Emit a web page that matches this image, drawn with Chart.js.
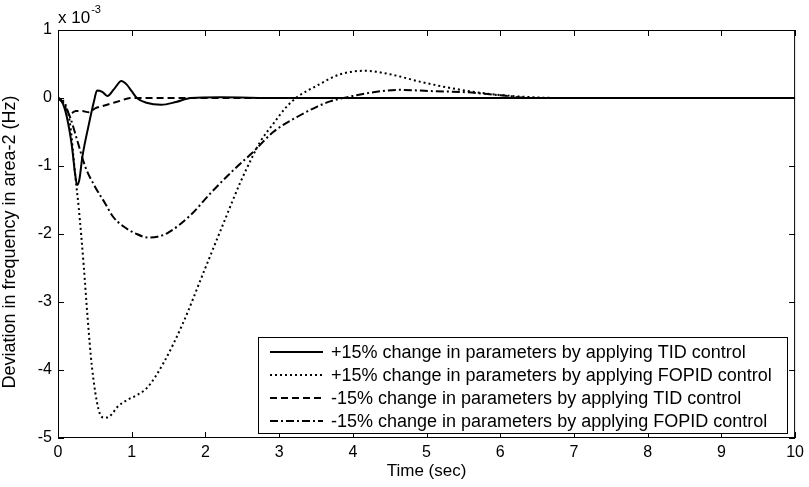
<!DOCTYPE html>
<html>
<head>
<meta charset="utf-8">
<script src="https://cdn.jsdelivr.net/npm/chart.js@4/dist/chart.umd.min.js"></script>
<style>
  html, body { margin: 0; padding: 0; background: #fff; }
  #wrap { width: 809px; height: 487px; }
</style>
</head>
<body>
<div id="wrap"><canvas id="freqChart" width="809" height="487"></canvas></div>
<script>
  // Tick values (values are in units of 1e-3 Hz)
  const xTickValues = [0, 1, 2, 3, 4, 5, 6, 7, 8, 9, 10];
  const yTickValues = [-5, -4, -3, -2, -1, 0, 1];

  const xTitle = 'Time (sec)';
  const yTitle = 'Deviation in frequency in area-2 (Hz)';

  const seriesLabels = [
    '+15% change in parameters by applying TID control',
    '+15% change in parameters by applying FOPID control',
    '-15% change in parameters by applying TID control',
    '-15% change in parameters by applying FOPID control'
  ];

  // +15% TID (solid)
  const tPlusTid = [0, 0.05, 0.12, 0.19, 0.23, 0.26, 0.29, 0.33, 0.42, 0.49, 0.53, 0.6, 0.67, 0.76, 0.86, 0.93, 1.0, 1.07, 1.2, 1.4, 1.6, 1.8, 2.2, 3, 10];
  const vPlusTid = [0, -0.04, -0.28, -0.72, -1.1, -1.28, -1.2, -0.87, -0.38, -0.04, 0.11, 0.09, 0.03, 0.13, 0.25, 0.2, 0.1, 0, -0.07, -0.1, -0.06, 0, 0.01, 0, 0];

  // +15% FOPID (dotted)
  const tPlusFopid = [0, 0.06, 0.12, 0.17, 0.21, 0.24, 0.28, 0.35, 0.4, 0.46, 0.55, 0.62, 0.67, 0.73, 0.8, 0.94, 1.05, 1.21, 1.43, 1.7, 1.98, 2.25, 2.47, 2.63, 2.74, 2.92, 3.1, 3.24, 3.51, 3.83, 4.17, 4.5, 4.95, 5.41, 5.86, 6.45, 7, 10];
  const vPlusFopid = [0, -0.03, -0.15, -0.43, -0.87, -1.2, -1.6, -2.48, -3.21, -3.95, -4.58, -4.7, -4.7, -4.65, -4.55, -4.44, -4.38, -4.26, -3.9, -3.3, -2.55, -1.83, -1.25, -0.88, -0.65, -0.38, -0.13, 0.01, 0.18, 0.35, 0.4, 0.35, 0.23, 0.13, 0.06, 0.01, 0, 0];

  // -15% TID (dashed)
  const tMinusTid = [0, 0.05, 0.1, 0.17, 0.24, 0.32, 0.42, 0.51, 0.6, 0.71, 0.85, 0.98, 1.3, 2, 10];
  const vMinusTid = [0, -0.05, -0.15, -0.23, -0.19, -0.19, -0.21, -0.15, -0.12, -0.085, -0.04, 0, 0, 0, 0];

  // -15% FOPID (dash-dot)
  const tMinusFopid = [0, 0.08, 0.17, 0.26, 0.37, 0.5, 0.64, 0.75, 0.89, 1.05, 1.21, 1.35, 1.48, 1.8, 2.07, 2.38, 2.65, 2.92, 3.24, 3.51, 3.69, 4.0, 4.28, 4.64, 5.09, 5.54, 6.0, 6.45, 7, 10];
  const vMinusFopid = [0, -0.085, -0.3, -0.62, -1.01, -1.3, -1.55, -1.75, -1.89, -1.99, -2.05, -2.04, -1.99, -1.72, -1.4, -1.06, -0.79, -0.5, -0.28, -0.13, -0.05, 0.03, 0.085, 0.12, 0.1, 0.085, 0.04, 0, 0, 0];

  const FONT = 'Arial, "Liberation Sans", Helvetica, sans-serif';

  function toPoints(ts, vs) {
    return ts.map((t, i) => ({ x: t, y: vs[i] }));
  }

  function makeDataset(label, ts, vs, dash) {
    return {
      label: label,
      data: toPoints(ts, vs),
      borderColor: '#000',
      borderWidth: 2,
      borderDash: dash,
      pointRadius: 0,
      fill: false,
      cubicInterpolationMode: 'monotone'
    };
  }

  // MATLAB style box, inward ticks, titles, exponent and legend
  const matlabFrame = {
    id: 'matlabFrame',
    afterDatasetsDraw(chart) {
      const ctx = chart.ctx;
      const area = chart.chartArea;
      const xs = chart.scales.x;
      const ys = chart.scales.y;
      const tick = 6;

      ctx.save();
      ctx.strokeStyle = '#000';
      ctx.fillStyle = '#000';
      ctx.lineWidth = 1;
      ctx.setLineDash([]);

      // box
      ctx.strokeRect(area.left + 0.5, area.top + 0.5, area.right - area.left - 1, area.bottom - area.top - 1);

      // inward ticks
      ctx.beginPath();
      xTickValues.forEach(v => {
        const px = Math.round(xs.getPixelForValue(v)) + 0.5;
        ctx.moveTo(px, area.bottom);
        ctx.lineTo(px, area.bottom - tick);
        ctx.moveTo(px, area.top);
        ctx.lineTo(px, area.top + tick);
      });
      yTickValues.forEach(v => {
        const py = Math.round(ys.getPixelForValue(v)) + 0.5;
        ctx.moveTo(area.left, py);
        ctx.lineTo(area.left + tick, py);
        ctx.moveTo(area.right, py);
        ctx.lineTo(area.right - tick, py);
      });
      ctx.stroke();

      // axis titles
      ctx.textAlign = 'center';
      ctx.textBaseline = 'middle';
      ctx.font = '17px ' + FONT;
      ctx.fillText(xTitle, (area.left + area.right) / 2, 471);
      ctx.save();
      ctx.translate(10, 242);
      ctx.rotate(-Math.PI / 2);
      ctx.font = '18px ' + FONT;
      ctx.fillText(yTitle, 0, 0);
      ctx.restore();

      // exponent label
      ctx.textBaseline = 'alphabetic';
      ctx.textAlign = 'left';
      ctx.font = '17px ' + FONT;
      ctx.fillText('x 10', area.left, 23);
      const w = ctx.measureText('x 10').width;
      ctx.font = '11px ' + FONT;
      ctx.fillText('-3', area.left + w + 1, 13);

      // legend
      const box = { left: 258, top: 337, right: 787, bottom: 433 };
      ctx.fillStyle = '#fff';
      ctx.fillRect(box.left, box.top, box.right - box.left, box.bottom - box.top);
      ctx.strokeRect(box.left + 0.5, box.top + 0.5, box.right - box.left, box.bottom - box.top);

      ctx.font = '18px ' + FONT;
      ctx.textBaseline = 'middle';
      chart.data.datasets.forEach((ds, i) => {
        const y = 352 + i * 23;
        ctx.beginPath();
        ctx.lineWidth = 2;
        ctx.setLineDash(ds.borderDash || []);
        ctx.moveTo(270, y);
        ctx.lineTo(323, y);
        ctx.stroke();
        ctx.setLineDash([]);
        ctx.fillStyle = '#000';
        ctx.fillText(ds.label, 331, y + 1);
      });
      ctx.restore();
    }
  };

  const ctx = document.getElementById('freqChart').getContext('2d');
  const freqChart = new Chart(ctx, {
    type: 'line',
    data: {
      datasets: [
        makeDataset(seriesLabels[0], tPlusTid, vPlusTid, []),
        makeDataset(seriesLabels[1], tPlusFopid, vPlusFopid, [2, 3]),
        makeDataset(seriesLabels[2], tMinusTid, vMinusTid, [7, 4]),
        makeDataset(seriesLabels[3], tMinusFopid, vMinusFopid, [8, 3, 2, 3])
      ]
    },
    options: {
      responsive: false,
      animation: false,
      devicePixelRatio: 1,
      layout: { padding: { top: 30, right: 13, left: 0, bottom: 0 } },
      scales: {
        x: {
          type: 'linear',
          min: 0,
          max: 10,
          afterBuildTicks: scale => { scale.ticks = xTickValues.map(v => ({ value: v })); },
          afterFit: scale => { scale.height = 49; },
          grid: { display: false, drawTicks: false },
          border: { display: false },
          ticks: { color: '#000', font: { family: FONT, size: 16 }, padding: 5, maxRotation: 0 }
        },
        y: {
          min: -5,
          max: 1,
          afterBuildTicks: scale => { scale.ticks = yTickValues.map(v => ({ value: v })); },
          afterFit: scale => { scale.width = 58; },
          grid: { display: false, drawTicks: false },
          border: { display: false },
          ticks: { color: '#000', font: { family: FONT, size: 16 }, padding: 6 }
        }
      },
      plugins: {
        legend: { display: false },
        tooltip: { enabled: false }
      }
    },
    plugins: [matlabFrame]
  });
</script>
</body>
</html>
